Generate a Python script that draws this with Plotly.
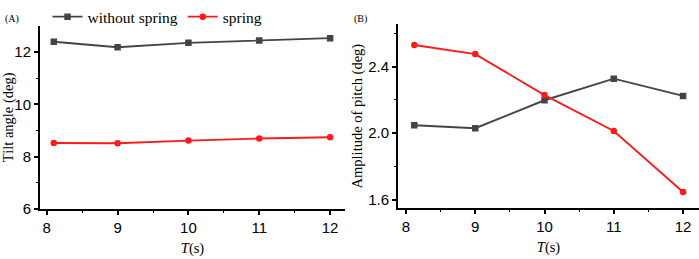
import plotly.graph_objects as go

T_tilt = [8.1, 9, 10, 11, 12]
tilt_without = [12.39, 12.18, 12.35, 12.44, 12.53]
tilt_spring = [8.52, 8.51, 8.61, 8.69, 8.74]

T_pitch = [8.12, 9, 10, 11, 12]
pitch_without = [2.048, 2.03, 2.198, 2.328, 2.224]
pitch_spring = [2.531, 2.476, 2.229, 2.013, 1.646]

x_ticks = [8, 9, 10, 11, 12]
x_minor = [8.5, 9.5, 10.5, 11.5]
tilt_ticks = [6, 8, 10, 12]
tilt_minor = [7, 9, 11]
pitch_ticks = [1.6, 2.0, 2.4]
pitch_minor = [1.8, 2.2, 2.6]

GRAY = "#444444"
RED = "#ff1a1a"
W, H = 699, 259

fig = go.Figure()
fig.add_trace(go.Scatter(x=T_tilt, y=tilt_without, mode="lines+markers", name="without spring",
                         line=dict(color=GRAY, width=1.9), marker=dict(symbol="square", size=6.5, color=GRAY),
                         xaxis="x", yaxis="y"))
fig.add_trace(go.Scatter(x=T_tilt, y=tilt_spring, mode="lines+markers", name="spring",
                         line=dict(color=RED, width=1.9), marker=dict(symbol="circle", size=6.5, color=RED),
                         xaxis="x", yaxis="y"))
fig.add_trace(go.Scatter(x=T_pitch, y=pitch_without, mode="lines+markers", name="without spring",
                         line=dict(color=GRAY, width=1.9), marker=dict(symbol="square", size=6.5, color=GRAY),
                         xaxis="x2", yaxis="y2", showlegend=False))
fig.add_trace(go.Scatter(x=T_pitch, y=pitch_spring, mode="lines+markers", name="spring",
                         line=dict(color=RED, width=1.9), marker=dict(symbol="circle", size=6.5, color=RED),
                         xaxis="x2", yaxis="y2", showlegend=False))


def axis_style(minor_vals):
    return dict(showline=True, linecolor="black", linewidth=2, ticks="outside", ticklen=4,
                tickwidth=1.5, tickcolor="black", showgrid=False, zeroline=False,
                tickfont=dict(family="Liberation Sans, Arial", size=15, color="black"),
                minor=dict(ticks="outside", ticklen=2, tickwidth=1, tickcolor="black",
                           tickmode="array", tickvals=minor_vals, showgrid=False))


title_font = dict(family="Liberation Serif, Times New Roman", size=14.5, color="black")

fig.update_layout(
    width=W, height=H,
    margin=dict(l=0, r=0, t=0, b=0),
    paper_bgcolor="white", plot_bgcolor="white",
    showlegend=True,
    legend=dict(orientation="h", x=0.068, y=1.05, xanchor="left", yanchor="top",
                font=dict(family="Liberation Serif, Times New Roman", size=15.5, color="black"),
                bgcolor="rgba(0,0,0,0)", itemwidth=30, tracegroupgap=0),
    xaxis=dict(domain=[40 / W, 345 / W], range=[7.905, 12.21], tickvals=x_ticks, anchor="y",
               title=dict(text="<i>T</i>(s)", font=title_font, standoff=8),
               **axis_style(x_minor)),
    yaxis=dict(domain=[(H - 213.3) / H, (H - 15) / H], range=[6, 13], tickvals=tilt_ticks, anchor="x",
               title=dict(text="Tilt angle (deg)", font=title_font, standoff=1),
               **axis_style(tilt_minor)),
    xaxis2=dict(domain=[398 / W, 1.0], range=[7.885, 12.23], tickvals=x_ticks, anchor="y2",
                title=dict(text="<i>T</i>(s)", font=title_font, standoff=8),
                **axis_style(x_minor)),
    yaxis2=dict(domain=[(H - 212.7) / H, (H - 13) / H], range=[1.548, 2.657], tickvals=pitch_ticks,
                tickformat=".1f", anchor="x2",
                title=dict(text="Amplitude of pitch (deg)", font=title_font, standoff=2),
                **axis_style(pitch_minor)),
    annotations=[
        dict(text="(A)", x=3 / W, y=1 - 8 / H, xref="paper", yref="paper", xanchor="left", yanchor="middle",
             showarrow=False, font=dict(family="Liberation Serif, Times New Roman", size=10, color="black")),
        dict(text="(B)", x=352 / W, y=1 - 8 / H, xref="paper", yref="paper", xanchor="left", yanchor="middle",
             showarrow=False, font=dict(family="Liberation Serif, Times New Roman", size=10, color="black")),
    ],
)

fig.write_html("out.html", config={"displayModeBar": False},
               post_script="document.body.style.margin='0';document.body.style.overflow='hidden';")
